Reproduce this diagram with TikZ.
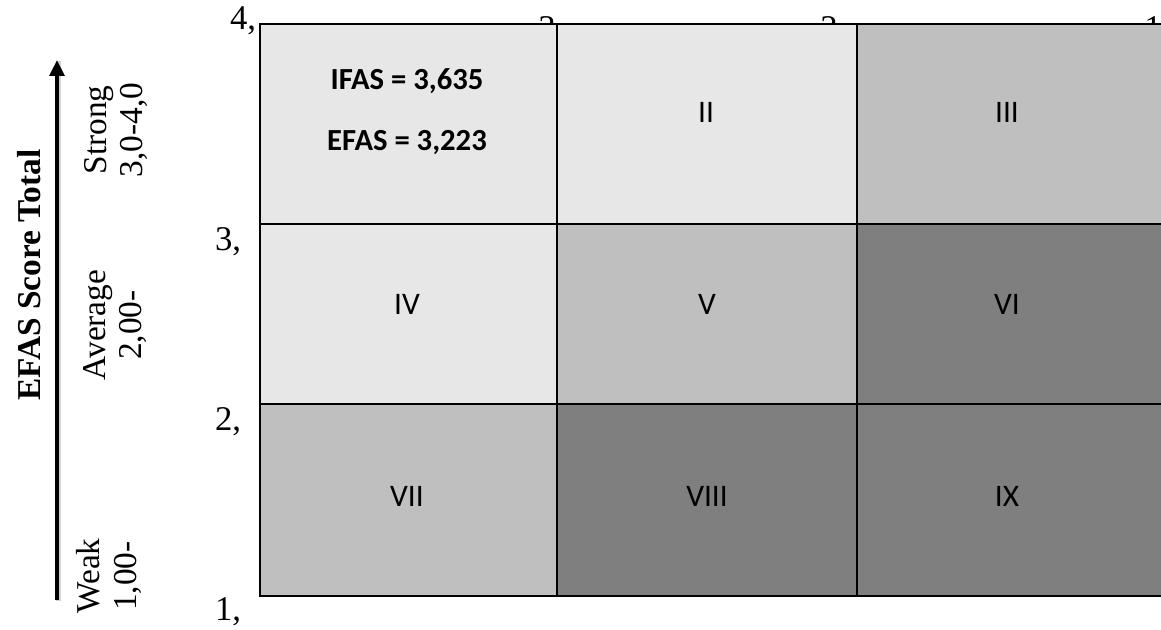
\documentclass[tikz,border=0pt]{standalone}
\usepackage{fontspec}
\setmainfont{Liberation Serif}
\newfontfamily\cellfont{Carlito}
\usetikzlibrary{arrows.meta}
\definecolor{lightc}{HTML}{E7E7E7}
\definecolor{midc}{HTML}{BFBFBF}
\definecolor{darkc}{HTML}{7F7F7F}
\tikzset{
  cell/.style={draw=black, line width=1.6pt},
  celltext/.style={font=\cellfont\fontsize{23.5}{27}\selectfont, inner sep=0pt},
  boldtext/.style={font=\cellfont\bfseries\fontsize{23}{27}\selectfont, inner sep=0pt},
  axisnum/.style={font=\fontsize{26}{30}\selectfont, inner sep=0pt, anchor=base},
  sidelabel/.style={font=\fontsize{25}{27.5}\selectfont, inner sep=0pt, rotate=90, align=center},
}
\begin{document}
\begin{tikzpicture}[x=0.75pt,y=-0.75pt]
\useasboundingbox (0,0) rectangle (1161,630);
\clip (0,0) rectangle (1161,630);
% axis numbers (drawn first, partly covered by the grid)
\node[axisnum] (n4) at (243,30) {4,};
\node[axisnum] (n3t) at (547,40) {3};
\node[axisnum] (n2t) at (829,40) {2};
\node[axisnum] (n1t) at (1153,40) {1};
\node[axisnum] (n3) at (228,251) {3,};
\node[axisnum] (n2) at (228,431) {2,};
\node[axisnum] (n1) at (228,621) {1,};
% grid
\path[cell, fill=lightc] (260,24) rectangle (557,224);
\path[cell, fill=lightc] (557,24) rectangle (857,224);
\path[cell, fill=midc] (857,24) rectangle (1166,224);
\path[cell, fill=lightc] (260,224) rectangle (557,404);
\path[cell, fill=midc] (557,224) rectangle (857,404);
\path[cell, fill=darkc] (857,224) rectangle (1166,404);
\path[cell, fill=midc] (260,404) rectangle (557,596);
\path[cell, fill=darkc] (557,404) rectangle (857,596);
\path[cell, fill=darkc] (857,404) rectangle (1166,596);
% cell texts
\node[boldtext] (ifas) at (407,81) {IFAS = 3,635};
\node[boldtext] (efas) at (407,143) {EFAS = 3,223};
\node[celltext] (c2) at (706,112) {II};
\node[celltext] (c3) at (1007,112) {III};
\node[celltext] (c4) at (407,304) {IV};
\node[celltext] (c5) at (707,304) {V};
\node[celltext] (c6) at (1007,304) {VI};
\node[celltext] (c7) at (407,496) {VII};
\node[celltext] (c8) at (707,496) {VIII};
\node[celltext] (c9) at (1007,496) {IX};
% side axis
\coordinate (abot) at (57,600);
\coordinate (atop) at (57,60);
\draw[gray!35, line width=3.5pt] ([shift={(1.5,1.5)}]abot) -- ([shift={(1.5,1.5)}]atop);
\draw[line width=3.5pt, -{Triangle[length=12pt,width=11pt]}] (abot) -- (atop);
\node[sidelabel, font=\bfseries\fontsize{25}{28}\selectfont] (title) at (29,275) {EFAS Score Total};
\node[sidelabel] (strong) at (116,130) {Strong\\3,0-4,0};
\node[sidelabel] (avg) at (115,325) {Average\\2,00-};
\node[sidelabel] (weak) at (109,576) {Weak\\1,00-};
\end{tikzpicture}
\end{document}
